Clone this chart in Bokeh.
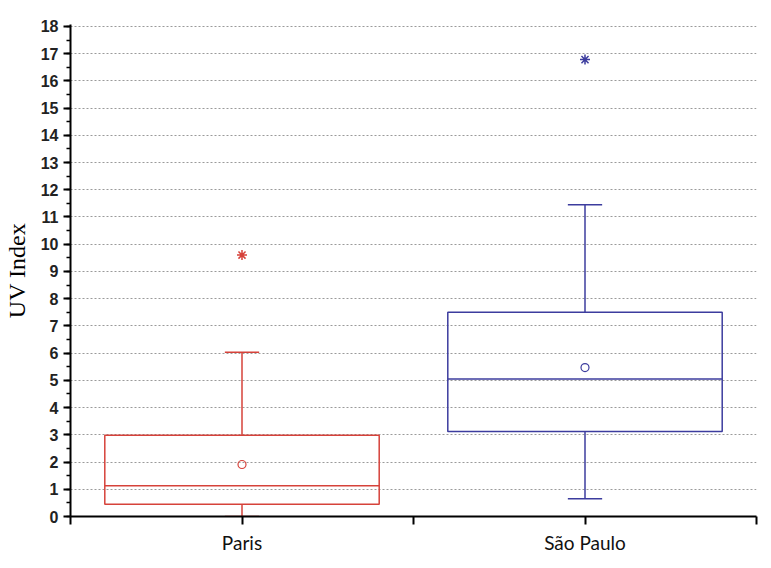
from bokeh.plotting import figure
from bokeh.models import Range1d, FixedTicker, SingleIntervalTicker
from bokeh.embed import file_html
from bokeh.resources import INLINE

# ---- data ----
cities = ["Paris", "São Paulo"]
whisker_low = [0.0, 0.65]
q1 = [0.45, 3.12]
median = [1.13, 5.05]
q3 = [2.98, 7.5]
whisker_high = [6.03, 11.45]
mean = [1.91, 5.47]
outliers = [9.6, 16.78]
colors = ["#D6423A", "#3C3C9E"]

y_ticks = list(range(0, 19))

# ---- figure ----
p = figure(frame_width=686, frame_height=492, output_backend="svg", toolbar_location=None,
           x_range=Range1d(0, 2), y_range=Range1d(0, 18.07),
           min_border_left=67, min_border_right=2, min_border_top=24, min_border_bottom=36)
p.outline_line_color = None
p.background_fill_color = "white"

xs = [i + 0.5 for i in range(len(cities))]
half_box = 0.4
half_cap = 0.05

left = [x - half_box for x in xs]
right = [x + half_box for x in xs]

# whiskers
p.segment(x0=xs, y0=whisker_low, x1=xs, y1=q1, line_color=colors, line_width=1.5)
p.segment(x0=xs, y0=q3, x1=xs, y1=whisker_high, line_color=colors, line_width=1.5)
# caps
p.segment(x0=[x - half_cap for x in xs], y0=whisker_low, x1=[x + half_cap for x in xs],
          y1=whisker_low, line_color=colors, line_width=1.5)
p.segment(x0=[x - half_cap for x in xs], y0=whisker_high, x1=[x + half_cap for x in xs],
          y1=whisker_high, line_color=colors, line_width=1.5)
# boxes
p.quad(left=left, right=right, bottom=q1, top=q3, fill_color=None,
       line_color=colors, line_width=1.5)
# median
p.segment(x0=left, y0=median, x1=right, y1=median, line_color=colors, line_width=1.5)
# mean
p.scatter(x=xs, y=mean, marker="circle", size=8, fill_color=None,
          line_color=colors, line_width=1.2)
# outliers
p.scatter(x=xs, y=outliers, marker="asterisk", size=10, line_color=colors, line_width=1.5)

# ---- axes ----
p.xgrid.visible = False
p.ygrid.ticker = FixedTicker(ticks=y_ticks)
p.ygrid.grid_line_color = "#9a9a9a"
p.ygrid.grid_line_dash = "2 2"
p.ygrid.grid_line_width = 1

yax = p.yaxis[0]
yax.ticker = SingleIntervalTicker(interval=1, num_minor_ticks=2)
yax.axis_label = "UV Index"
yax.axis_label_text_font = "Liberation Serif"
yax.axis_label_text_font_size = "24px"
yax.axis_label_text_font_style = "normal"
yax.axis_label_text_color = "black"
yax.axis_label_standoff = 8
yax.major_label_text_font = "Liberation Sans"
yax.major_label_text_font_size = "16px"
yax.major_label_text_font_style = "bold"
yax.major_label_text_color = "#222222"
yax.major_label_standoff = 5
yax.axis_line_width = 2
yax.major_tick_line_width = 2
yax.minor_tick_line_width = 1.5
yax.major_tick_out = 7
yax.major_tick_in = 0
yax.minor_tick_out = 4
yax.minor_tick_in = 0
yax.axis_line_color = "black"
yax.major_tick_line_color = "black"
yax.minor_tick_line_color = "black"

xax = p.xaxis[0]
xax.ticker = FixedTicker(ticks=[0, 0.5, 1, 1.5, 2], minor_ticks=[])
overrides = {0: "", 1: "", 2: ""}
for x, name in zip(xs, cities):
    overrides[x] = name
xax.major_label_overrides = overrides
xax.major_label_text_font = "Lato"
xax.major_label_text_font_size = "19px"
xax.major_label_text_color = "#111111"
xax.major_label_standoff = 6
xax.axis_line_width = 2
xax.major_tick_line_width = 2
xax.major_tick_out = 8
xax.major_tick_in = 0
xax.minor_tick_line_color = None
xax.axis_line_color = "black"
xax.major_tick_line_color = "black"

open("out.html", "w").write(file_html(p, INLINE))
